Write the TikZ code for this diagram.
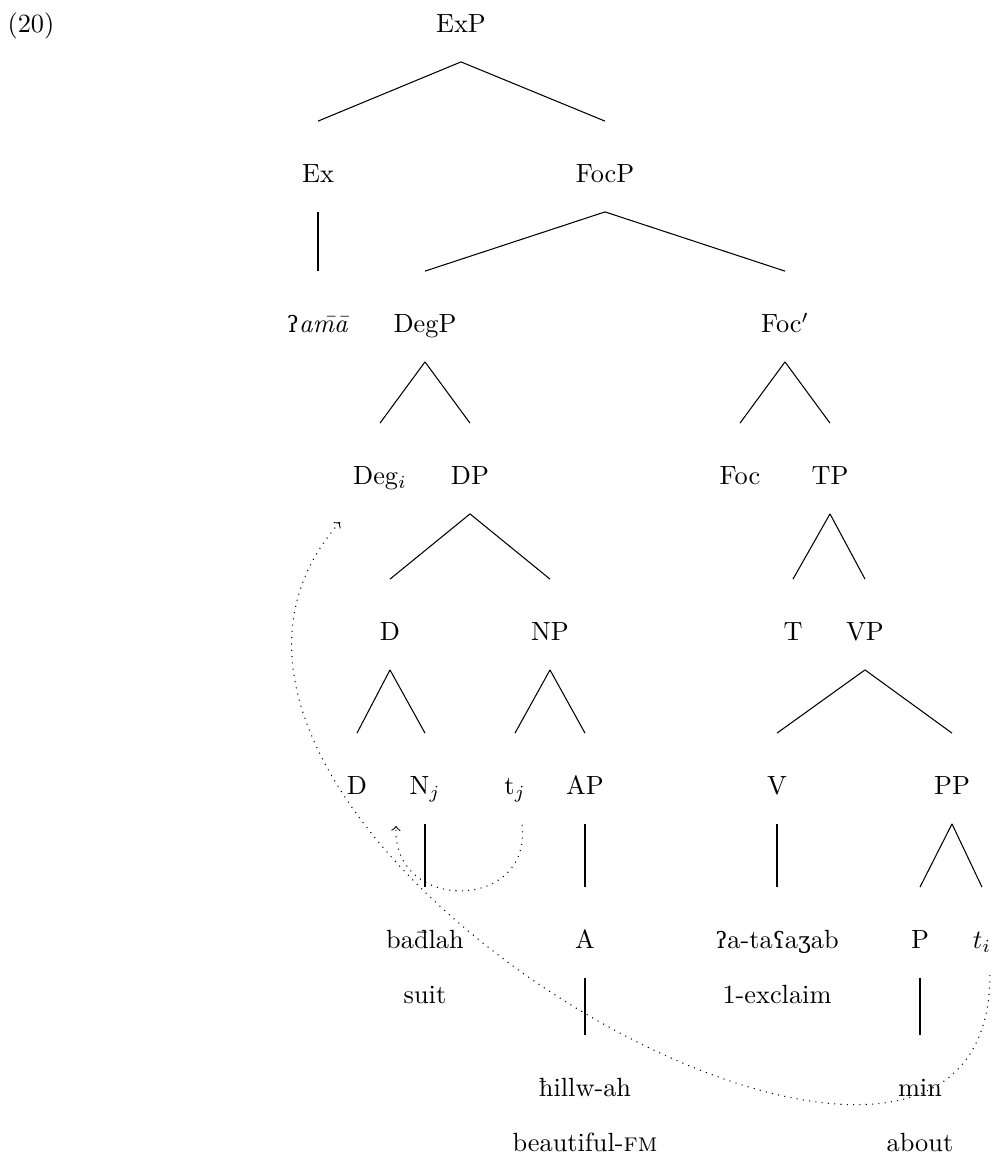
\documentclass[tikz,border=0pt]{standalone}
\usepackage{fontspec}
\newfontfamily\ipa{DejaVu Serif}[Scale=0.86]
\newcommand\treeedge[2]{\draw ([yshift=-14.4pt]#1.center) -- ([yshift=20.1pt]#2.center);}
\begin{document}
\begin{tikzpicture}[x=0.38pt,y=-0.38pt,
  lbl/.style={inner sep=0pt,text height=6.8pt,text depth=0pt},
  every node/.style={lbl},
  move/.style={dotted,->}]
\useasboundingbox (0,0) rectangle (992,1176);
\node (n20) at (31,24) {(20)};
\node (ExP) at (461,24) {ExP};
\node (Ex) at (318,174) {Ex};
\node (FocP) at (605,174) {FocP};
\node (ama) at (318,324) {{\ipa ʔ}\textit{a\=m\=a}};
\node (DegP) at (425,324) {DegP};
\node (Focb) at (785,324) {Foc$'$};
\node (Deg) at (380,476) {Deg$_i$};
\node (DP) at (470,476) {DP};
\node (Foc) at (740,476) {Foc};
\node (TP) at (830,476) {TP};
\node (D1) at (390,632) {D};
\node (NP) at (550,632) {NP};
\node (T) at (793,632) {T};
\node (VP) at (865,632) {VP};
\node (D2) at (357,786) {D};
\node (Nj) at (425,786) {N$_j$};
\node (tj) at (515,786) {t$_j$};
\node (AP) at (585,786) {AP};
\node (V) at (777,786) {V};
\node (PP) at (952,786) {PP};
\node (badlah) at (425,940) {ba\=dlah};
\node (A) at (585,940) {A};
\node (verb) at (777,940) {{\ipa ʔ}a-ta{\ipa ʕ}a{\ipa ʒ}ab};
\node (P) at (920,940) {P};
\node (ti) at (982,940) {$t_i$};
\node (suit) at (425,995) {suit};
\node (excl) at (777,995) {1-exclaim};
\node (hillw) at (585,1088) {ħillw-ah};
\node (min) at (920,1088) {min};
\node (beaut) at (585,1143) {beautiful-\textsc{fm}};
\node (about) at (920,1143) {about};
\treeedge{ExP}{Ex}
\treeedge{ExP}{FocP}
\treeedge{Ex}{ama}
\treeedge{FocP}{DegP}
\treeedge{FocP}{Focb}
\treeedge{DegP}{Deg}
\treeedge{DegP}{DP}
\treeedge{Focb}{Foc}
\treeedge{Focb}{TP}
\treeedge{DP}{D1}
\treeedge{DP}{NP}
\treeedge{TP}{T}
\treeedge{TP}{VP}
\treeedge{D1}{D2}
\treeedge{D1}{Nj}
\treeedge{NP}{tj}
\treeedge{NP}{AP}
\treeedge{VP}{V}
\treeedge{VP}{PP}
\treeedge{Nj}{badlah}
\treeedge{AP}{A}
\treeedge{V}{verb}
\treeedge{PP}{P}
\treeedge{PP}{ti}
\treeedge{A}{hillw}
\treeedge{P}{min}
\draw[move] ([xshift=3pt,yshift=-13.3pt]ti.center) .. controls +(0,375) and +(-264,300) .. ([xshift=-15.2pt,yshift=-17.5pt]Deg.center);
\draw[move] ([xshift=2.7pt,yshift=-14.8pt]tj.center) .. controls +(10,87) and +(-4,87) .. ([xshift=-11pt,yshift=-15.2pt]Nj.center);
\end{tikzpicture}
\end{document}
